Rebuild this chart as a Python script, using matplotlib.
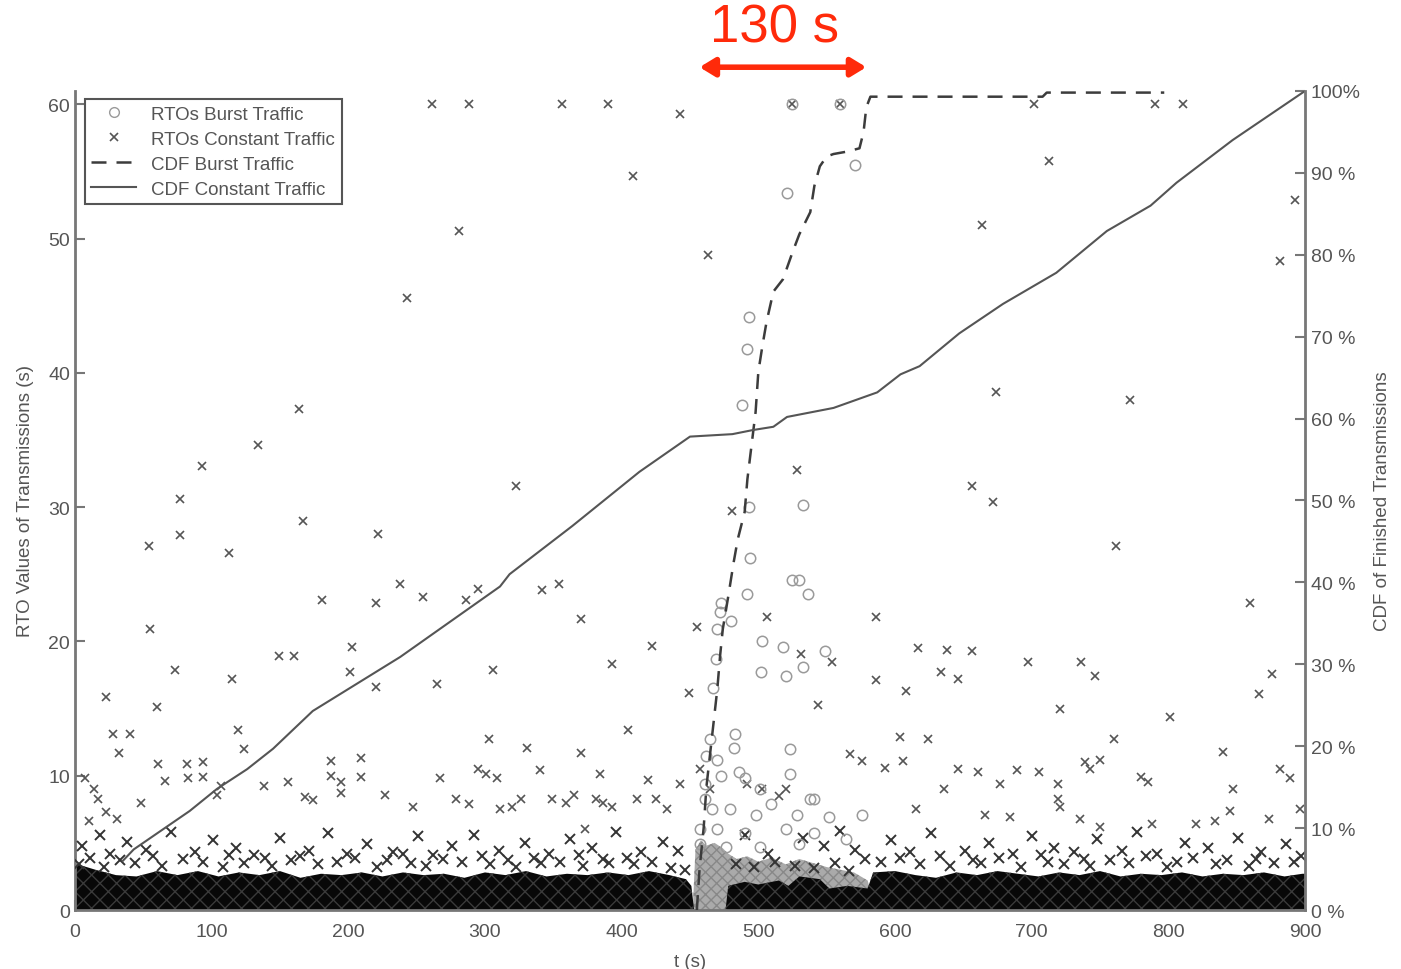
import matplotlib
matplotlib.use("Agg")
import matplotlib.pyplot as plt

plt.rcParams["font.family"] = ["Liberation Sans", "DejaVu Sans"]

# sparse RTOs, constant traffic (t in s, RTO in s)
const_t = [261, 288, 356, 390, 525, 560, 702, 790, 811,
           443, 408, 463, 281, 243, 664, 674, 772, 164, 134, 93, 77, 77, 54, 113, 167,
           323, 528, 656, 672, 481, 762, 222, 238, 220, 255, 181, 286, 295, 342, 354, 370,
           860, 586, 506, 455, 55, 203, 422, 617, 638, 656, 736, 697, 531, 554, 149, 160,
           73, 115, 201, 220, 265, 306, 393, 586, 608, 634, 646, 746, 876, 866, 23, 60,
           721, 801, 449, 544, 303, 119, 28, 40, 370, 331, 32, 124, 604, 624, 840, 760,
           750, 739, 719, 719, 743, 567, 576, 593, 606, 847, 780, 785, 689, 705, 661, 646,
           677, 636, 882, 889, 896, 874, 845, 834, 820, 788, 750, 735, 721, 684, 666, 615,
           7, 14, 17, 10, 23, 31, 48, 61, 66, 82, 83, 94, 94, 104, 107, 138, 156, 168, 174,
           187, 187, 195, 195, 209, 209, 227, 247, 267, 279, 288, 295, 301, 309, 311, 320,
           326, 340, 349, 359, 365, 381, 386, 393, 405, 411, 419, 425, 433, 443, 457, 465,
           492, 503, 515, 520, 384, 373, 893, 882, 713]
const_v = [60, 60, 60, 60, 60, 60, 60, 60, 60,
           59.3, 54.7, 48.8, 50.6, 45.6, 51.0, 38.6, 38.0, 37.3, 34.6, 33.1, 30.6, 27.9, 27.1, 26.6, 29.0,
           31.6, 32.8, 31.6, 30.4, 29.7, 27.1, 28.0, 24.3, 22.9, 23.3, 23.1, 23.1, 23.9, 23.8, 24.3, 21.7,
           22.9, 21.8, 21.8, 21.1, 20.9, 19.6, 19.7, 19.5, 19.4, 19.3, 18.5, 18.5, 19.1, 18.5, 18.9, 18.9,
           17.9, 17.2, 17.7, 16.6, 16.8, 17.9, 18.3, 17.1, 16.3, 17.7, 17.2, 17.4, 17.6, 16.1, 15.9, 15.1,
           15.0, 14.4, 16.2, 15.3, 12.7, 13.4, 13.1, 13.1, 11.7, 12.1, 11.7, 12.0, 12.9, 12.7, 11.8, 12.7,
           11.2, 11.0, 9.4, 8.3, 10.5, 11.6, 11.1, 10.6, 11.1, 9.0, 9.9, 9.5, 10.4, 10.3, 10.3, 10.5,
           9.4, 9.0, 10.5, 9.8, 7.5, 6.8, 7.4, 6.6, 6.4, 6.4, 6.2, 6.8, 7.7, 6.9, 7.1, 7.5,
           9.8, 9.0, 8.3, 6.6, 7.3, 6.8, 8.0, 10.9, 9.6, 10.9, 9.8, 11.0, 9.9, 8.6, 9.2, 9.2, 9.5, 8.4, 8.2,
           11.1, 10.0, 9.5, 8.7, 11.3, 9.9, 8.6, 7.7, 9.8, 8.3, 7.9, 10.5, 10.1, 9.8, 7.5, 7.7,
           8.3, 10.4, 8.3, 8.0, 8.6, 8.3, 8.0, 7.7, 13.4, 8.3, 9.7, 8.3, 7.5, 9.4, 10.5, 9.0,
           9.4, 9.0, 8.5, 9.0, 10.1, 6.0, 52.9, 48.3, 55.8]

# constant-traffic RTOs just above the dense band, (t, RTO)
low_pts = [(5, 4.8), (18, 5.6), (26, 4.2), (38, 5.1), (52, 4.5), (70, 5.8), (88, 4.3), (101, 5.2),
           (118, 4.6), (131, 4.1), (150, 5.4), (171, 4.4), (185, 5.7), (199, 4.2), (214, 4.9),
           (233, 4.3), (251, 5.5), (262, 4.1), (276, 4.8), (292, 5.6), (310, 4.4), (329, 5.0),
           (347, 4.2), (362, 5.3), (378, 4.6), (396, 5.8), (414, 4.3), (430, 5.1), (441, 4.4),
           (490, 5.6), (507, 4.2), (533, 5.4), (548, 4.8), (560, 5.9), (571, 4.5), (597, 5.2),
           (611, 4.3), (626, 5.7), (651, 4.4), (669, 5.0), (686, 4.2), (700, 5.5), (716, 4.6),
           (731, 4.3), (748, 5.3), (766, 4.4), (777, 5.8), (792, 4.2), (812, 5.0), (829, 4.6),
           (851, 5.4), (868, 4.3), (886, 4.9),
           (3, 3.4), (11, 3.9), (21, 3.2), (33, 3.7), (44, 3.5), (57, 4.0), (64, 3.3), (79, 3.8),
           (94, 3.6), (108, 3.2), (113, 4.1), (124, 3.5), (139, 3.9), (144, 3.3), (158, 3.7),
           (165, 4.0), (178, 3.4), (192, 3.6), (205, 3.9), (221, 3.2), (228, 3.7), (240, 4.2),
           (246, 3.5), (257, 3.3), (269, 3.8), (283, 3.6), (298, 4.0), (304, 3.4), (317, 3.7),
           (323, 3.2), (336, 3.9), (341, 3.5), (355, 3.6), (369, 4.1), (372, 3.3), (386, 3.8),
           (391, 3.5), (404, 3.9), (409, 3.4), (422, 3.6), (436, 3.1), (446, 3.0), (484, 3.4),
           (497, 3.2), (512, 3.6), (527, 3.3), (541, 3.1), (556, 3.5), (566, 2.9), (578, 3.8),
           (590, 3.6), (604, 3.9), (618, 3.4), (633, 4.0), (640, 3.3), (657, 3.7), (663, 3.5),
           (676, 3.9), (692, 3.2), (707, 4.1), (712, 3.6), (724, 3.4), (738, 3.8), (743, 3.3),
           (757, 3.7), (771, 3.5), (784, 4.0), (799, 3.2), (806, 3.6), (818, 3.9), (835, 3.4),
           (843, 3.7), (859, 3.3), (864, 3.8), (877, 3.5), (892, 3.6), (897, 4.0)]
low_t = [p[0] for p in low_pts]
low_v = [p[1] for p in low_pts]

# RTOs, burst traffic
burst_t = [521, 571, 493, 492, 488, 493, 533, 494, 525, 530, 536, 492, 473, 472, 480, 470,
           503, 518, 549, 469, 533, 502, 520, 467, 483, 465, 470, 482, 462, 523, 576, 538,
           541, 486, 473, 490, 523, 501, 461, 461, 466, 479, 498, 509, 528, 552, 457, 470,
           490, 520, 541, 564, 457, 476, 501, 530, 525, 560]
burst_v = [53.4, 55.5, 44.2, 41.8, 37.6, 30.0, 30.2, 26.2, 24.6, 24.6, 23.5, 23.5, 22.9, 22.2, 21.5, 20.9,
           20.0, 19.6, 19.3, 18.7, 18.1, 17.7, 17.4, 16.5, 13.1, 12.7, 11.2, 12.1, 11.5, 12.0, 7.1, 8.3,
           8.3, 10.3, 10.0, 9.8, 10.1, 9.0, 9.4, 8.3, 7.5, 7.5, 7.1, 7.9, 7.1, 6.9, 6.0, 6.0,
           5.7, 6.0, 5.7, 5.3, 4.9, 4.7, 4.7, 4.9, 60, 60]

# top of the dense RTO bands
band_t = [0, 2, 15, 30, 45, 60, 75, 90, 105, 120, 135, 150, 165, 180, 195, 210, 225, 240,
          255, 270, 285, 300, 315, 330, 345, 360, 375, 390, 405, 420, 435, 447, 451, 453,
          476, 478, 490, 500, 515, 522, 530, 545, 552, 565, 580, 584, 600, 615, 630, 645,
          660, 675, 690, 705, 720, 735, 750, 765, 780, 795, 810, 825, 840, 855, 870, 885, 898, 900]
band_top = [3.4, 3.4, 3.0, 2.6, 2.5, 2.9, 2.6, 2.9, 2.5, 2.8, 2.6, 2.9, 2.4, 2.7, 2.6, 2.8, 2.5, 2.8,
            2.6, 2.7, 2.4, 2.8, 2.6, 2.9, 2.5, 2.7, 2.6, 2.8, 2.6, 2.9, 2.6, 2.3, 1.8, 0,
            0, 1.8, 2.1, 1.9, 2.2, 1.8, 2.5, 2.3, 1.6, 1.8, 1.6, 2.8, 2.9, 2.6, 2.4, 2.8,
            2.6, 2.9, 2.7, 2.5, 2.8, 2.6, 2.9, 2.5, 2.7, 2.6, 2.8, 2.5, 2.7, 2.6, 2.8, 2.5, 2.7, 2.7]
burst_band_t = [452, 454, 458, 462, 468, 474, 478, 484, 492, 500, 510, 520, 530, 540, 550,
                560, 570, 580, 586]
burst_band_top = [0, 4.5, 5.2, 4.8, 5.0, 4.6, 4.2, 3.8, 4.0, 3.6, 3.9, 3.4, 3.8, 3.5, 3.2,
                  3.0, 2.8, 2.2, 0]

# CDFs (percent)
cdf_burst_t = [455, 457, 460, 462, 466, 470, 472, 474, 478, 482, 485, 490, 492, 495, 498, 500,
               503, 506, 511, 518, 525, 530, 538, 541, 545, 550, 555, 565, 574, 577, 579, 582,
               708, 711, 797]
cdf_burst = [0, 5, 10, 15, 21, 27, 31, 34.3, 38.3, 42.5, 45.3, 48.6, 52.6, 56.7, 60.8, 65.7,
             68.9, 71.8, 75.5, 77, 80.3, 82.5, 85.2, 88.4, 90.8, 92, 92.3, 92.6, 93, 95, 98, 99.3,
             99.3, 99.8, 99.8]
cdf_const_t = [35, 43, 84, 104, 126, 145, 174, 238, 311, 318, 364, 413, 450, 481, 496, 511,
               521, 555, 587, 604, 618, 647, 679, 718, 755, 787, 806, 847, 900]
cdf_const = [6, 7.4, 12.1, 14.8, 17.2, 19.7, 24.3, 30.9, 39.5, 41, 46.9, 53.5, 57.8, 58.1, 58.6, 59,
             60.2, 61.3, 63.2, 65.4, 66.4, 70.4, 74, 77.8, 82.9, 86, 88.8, 94, 100]

x_ticks = [0, 100, 200, 300, 400, 500, 600, 700, 800, 900]
left_ticks = [0, 10, 20, 30, 40, 50, 60]
right_ticks = [0, 10, 20, 30, 40, 50, 60, 70, 80, 90, 100]
right_labels = ["0 %", "10 %", "20 %", "30 %", "40 %", "50 %", "60 %", "70 %", "80 %", "90 %", "100%"]

axis_col = "#777777"
text_col = "#555555"

fig = plt.figure(figsize=(14.01, 9.70), dpi=100)
ax = fig.add_axes([0.0535, 0.0608, 0.878, 0.8444])
ax2 = ax.twinx()

ax.fill_between(burst_band_t, 0, burst_band_top, facecolor="#aaaaaa", edgecolor="#888888",
                hatch="xxx", linewidth=0, zorder=1)
ax.fill_between(band_t, 0, band_top, facecolor="#080808", edgecolor="#3a3a3a",
                hatch="xx", linewidth=0, zorder=2)
ax.plot(low_t, low_v, "x", color="#333333", ms=6.5, mew=1.4, zorder=3)
ax.plot(const_t, const_v, "x", color="#555555", ms=6, mew=1.2, zorder=3)
ax.plot(burst_t, burst_v, "o", mfc="none", mec="#9a9a9a", ms=7.5, mew=1.1, zorder=4)

ax2.plot(cdf_burst_t, cdf_burst, color="#3c3c3c", lw=1.8, dashes=(6, 4))
ax2.plot(cdf_const_t, cdf_const, color="#555555", lw=1.5)

ax.set_xlim(0, 900)
ax.set_ylim(0, 61)
ax2.set_ylim(0, 100)
ax.set_xticks(x_ticks)
ax.set_yticks(left_ticks)
ax2.set_yticks(right_ticks)
ax2.set_yticklabels(right_labels)

for a in (ax, ax2):
    a.spines["top"].set_visible(False)
    for s in ("left", "right", "bottom"):
        a.spines[s].set_color(axis_col)
        a.spines[s].set_linewidth(2)
    a.tick_params(direction="in", length=7, width=1.5, color=axis_col,
                  labelcolor=text_col, labelsize=14)
ax.spines["right"].set_visible(False)
ax2.spines["left"].set_visible(False)
ax2.spines["bottom"].set_visible(False)
ax2.tick_params(axis="y", pad=4)
ax.tick_params(axis="x", pad=9)

ax.set_xlabel("t (s)", fontsize=13.5, color=text_col, labelpad=10)
ax.set_ylabel("RTO Values of Transmissions (s)", fontsize=13.5, color=text_col, labelpad=10)
ax2.set_ylabel("CDF of Finished Transmissions", fontsize=13.5, color=text_col, labelpad=10)

h1, = ax.plot([], [], "o", mfc="none", mec="#9a9a9a", ms=7, label="RTOs Burst Traffic")
h2, = ax.plot([], [], "x", color="#555555", ms=6, mew=1.2, label="RTOs Constant Traffic")
h3, = ax.plot([], [], color="#3c3c3c", lw=1.8, dashes=(6, 4), label="CDF Burst Traffic")
h4, = ax.plot([], [], color="#555555", lw=1.5, label="CDF Constant Traffic")
leg = ax2.legend(handles=[h1, h2, h3, h4], loc="upper left", bbox_to_anchor=(0.008, 0.99),
                 borderaxespad=0, fancybox=False, framealpha=1, fontsize=13.5,
                 handlelength=2.4, labelspacing=0.42, borderpad=0.35)
leg.get_frame().set_edgecolor("#555555")
leg.get_frame().set_linewidth(1.5)
for t in leg.get_texts():
    t.set_color(text_col)

# 130 s annotation above the plot
red = "#ff2a0a"
ax.annotate("", xy=(579, 1.029), xytext=(457, 1.029), xycoords=("data", "axes fraction"),
            textcoords=("data", "axes fraction"),
            arrowprops=dict(arrowstyle="<|-|>,head_length=0.9,head_width=0.55", color=red, lw=4,
                            shrinkA=0, shrinkB=0), annotation_clip=False)
ax.text(512, 1.078, "130 s", transform=ax.get_xaxis_transform(), ha="center", va="center",
        fontsize=38, color=red, clip_on=False)

fig.savefig("out.png", dpi=100)
